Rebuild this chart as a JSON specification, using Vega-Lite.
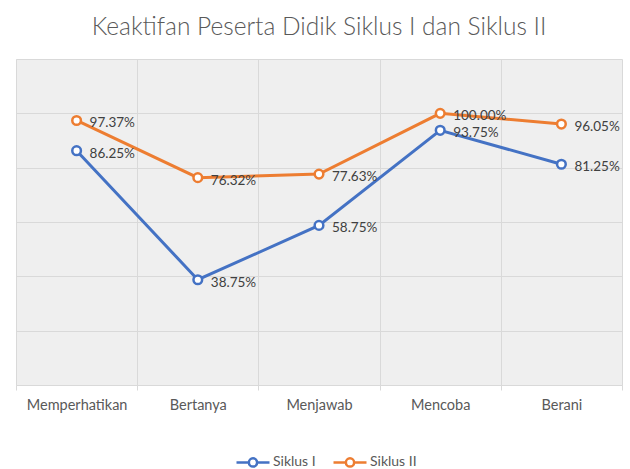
{
  "$schema": "https://vega.github.io/schema/vega-lite/v6.json",
  "width": 606,
  "height": 326,
  "autosize": {"type": "none"},
  "padding": {"left": 16, "top": 59, "right": 8, "bottom": 84},
  "background": "white",
  "title": {
    "text": "Keaktifan Peserta Didik Siklus I dan Siklus II",
    "font": "Lato",
    "fontSize": 24.5,
    "fontWeight": 300,
    "color": "#595959",
    "anchor": "middle",
    "offset": 19
  },
  "config": {
    "view": {"fill": "#efefef", "stroke": null},
    "font": "Lato"
  },
  "data": {
    "values": [
      {"aspek": "Memperhatikan", "siklus": "Siklus I", "nilai": 86.25, "label": "86.25%"},
      {"aspek": "Bertanya", "siklus": "Siklus I", "nilai": 38.75, "label": "38.75%"},
      {"aspek": "Menjawab", "siklus": "Siklus I", "nilai": 58.75, "label": "58.75%"},
      {"aspek": "Mencoba", "siklus": "Siklus I", "nilai": 93.75, "label": "93.75%"},
      {"aspek": "Berani", "siklus": "Siklus I", "nilai": 81.25, "label": "81.25%"},
      {"aspek": "Memperhatikan", "siklus": "Siklus II", "nilai": 97.37, "label": "97.37%"},
      {"aspek": "Bertanya", "siklus": "Siklus II", "nilai": 76.32, "label": "76.32%"},
      {"aspek": "Menjawab", "siklus": "Siklus II", "nilai": 77.63, "label": "77.63%"},
      {"aspek": "Mencoba", "siklus": "Siklus II", "nilai": 100.0, "label": "100.00%"},
      {"aspek": "Berani", "siklus": "Siklus II", "nilai": 96.05, "label": "96.05%"}
    ]
  },
  "encoding": {
    "x": {
      "field": "aspek",
      "type": "nominal",
      "sort": ["Memperhatikan", "Bertanya", "Menjawab", "Mencoba", "Berani"],
      "scale": {"type": "band", "paddingInner": 0, "paddingOuter": 0},
      "axis": {
        "title": null,
        "labelAngle": 0,
        "tickBand": "extent",
        "grid": true,
        "gridColor": "#d9d9d9",
        "domainColor": "#d9d9d9",
        "tickColor": "#d9d9d9",
        "tickSize": 5,
        "labelPadding": 8,
        "labelFont": "Lato",
        "labelFontSize": 14.5,
        "labelColor": "#595959"
      }
    },
    "y": {
      "field": "nilai",
      "type": "quantitative",
      "scale": {"domain": [0, 120], "nice": false},
      "axis": {
        "title": null,
        "labels": false,
        "ticks": false,
        "domain": false,
        "grid": true,
        "gridColor": "#d9d9d9",
        "values": [0, 20, 40, 60, 80, 100, 120]
      }
    },
    "color": {
      "field": "siklus",
      "type": "nominal",
      "scale": {"domain": ["Siklus I", "Siklus II"], "range": ["#4472C4", "#ED7D31"]},
      "legend": {
        "title": null,
        "orient": "none",
        "direction": "horizontal",
        "legendX": 219,
        "legendY": 385,
        "symbolType": "M-1,0H-0.25M0.25,0H1M-0.25,0A0.25,0.25 0 1,0 0.25,0A0.25,0.25 0 1,0 -0.25,0",
        "symbolSize": 1089,
        "symbolStrokeWidth": 2.5,
        "symbolFillColor": "white",
        "labelFont": "Lato",
        "labelFontSize": 14,
        "labelColor": "#595959",
        "labelOffset": 2,
        "columnPadding": 12
      }
    }
  },
  "layer": [
    {"mark": {"type": "line", "strokeWidth": 3}},
    {"mark": {"type": "point", "filled": false, "fill": "white", "size": 75, "strokeWidth": 2.5, "opacity": 1}},
    {
      "mark": {"type": "text", "align": "left", "baseline": "middle", "dx": 13, "dy": 3, "fontSize": 13.5, "font": "Lato", "color": "#404040"},
      "encoding": {"text": {"field": "label"}, "color": {"value": "#404040"}}
    }
  ]
}
